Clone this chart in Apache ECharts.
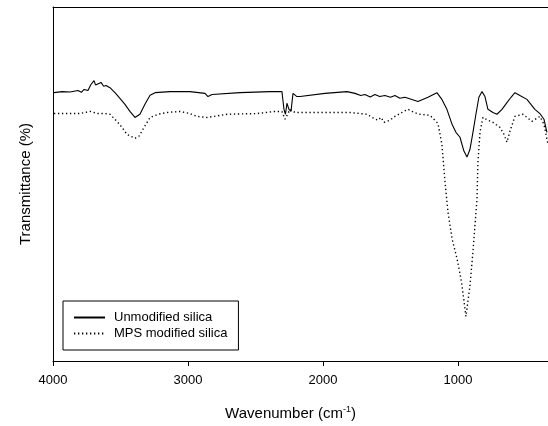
<!DOCTYPE html>
<html lang="en">
<head>
  <meta charset="UTF-8">
  <title>FTIR</title>
  <style>
    html, body { margin: 0; padding: 0; background: #fff; }
  </style>
</head>
<body>
  <div id="chart" style="width:548px;height:426px;"></div>
<script src="https://cdn.jsdelivr.net/npm/echarts@6/dist/echarts.min.js"></script>
<script>
  // wavenumber (cm-1) and transmittance (%)
  var waveSolid = [3993, 3933, 3874, 3815, 3790, 3770, 3741, 3719, 3696, 3685, 3674, 3644, 3625, 3607, 3578, 3541, 3504,
    3467, 3430, 3393, 3356, 3319, 3281, 3244, 3133, 2985, 2874, 2852, 2822, 2615, 2393, 2304, 2289, 2278, 2267,
    2252, 2237, 2222, 2193, 2170, 1985, 1822, 1763, 1720, 1689, 1650, 1615, 1580, 1541, 1500, 1467, 1430, 1393,
    1296, 1222, 1156, 1119, 1082, 1044, 1015, 985, 956, 933, 911, 889, 867, 845, 822, 800, 778, 741, 711, 674,
    637, 607, 578, 541, 489, 430, 393, 363, 341];
  var unmodified = [75.8, 76.1, 76.0, 76.4, 75.9, 76.7, 76.4, 78.1, 79.2, 78.0, 78.4, 78.7, 77.6, 77.8, 77.2, 75.8, 74.2,
    72.5, 70.5, 68.8, 69.7, 72.5, 75.1, 75.8, 76.1, 76.1, 75.6, 74.7, 75.3, 75.8, 76.1, 76.1, 71.1, 69.7, 72.8,
    71.1, 70.5, 75.6, 74.7, 74.7, 75.6, 76.1, 75.6, 75.0, 75.3, 74.6, 75.3, 74.7, 75.0, 74.5, 75.0, 74.2, 74.5,
    73.3, 74.5, 75.8, 73.9, 71.1, 66.9, 64.6, 63.2, 59.3, 57.6, 59.8, 64.6, 69.7, 74.5, 76.1, 74.7, 71.1, 70.2,
    69.7, 71.1, 73.0, 74.5, 75.8, 75.0, 73.9, 71.1, 69.9, 68.3, 64.6];

  var waveDotted = [3993, 3911, 3800, 3726, 3667, 3615, 3578, 3526, 3489, 3452, 3393, 3363, 3333, 3281, 3222, 3156,
    3059, 2985, 2933, 2859, 2711, 2489, 2356, 2304, 2281, 2244, 2207, 2022, 1800, 1674, 1622, 1593, 1570, 1548,
    1504, 1467, 1415, 1370, 1326, 1281, 1207, 1148, 1119, 1096, 1074, 1044, 1007, 985, 970, 941, 911, 889, 870,
    859, 852, 837, 815, 778, 741, 689, 659, 637, 615, 578, 519, 452, 393, 363, 333];
  var modified = [69.9, 69.9, 69.9, 70.5, 69.9, 69.9, 69.7, 67.7, 66.0, 64.0, 62.9, 63.5, 65.5, 68.8, 69.7, 70.2,
    70.5, 69.9, 69.1, 68.8, 69.7, 69.9, 70.5, 70.5, 68.3, 71.1, 70.2, 70.2, 70.2, 69.7, 68.5, 68.0, 68.8, 67.4,
    68.0, 69.1, 70.2, 71.1, 70.2, 69.7, 69.4, 67.1, 61.2, 50.6, 42.1, 34.6, 28.9, 24.7, 21.3, 12.6, 21.3, 30.9, 40.2,
    45.8, 56.2, 64.6, 68.8, 68.0, 67.4, 66.0, 64.0, 61.8, 64.9, 69.1, 69.7, 67.7, 69.1, 66.9, 61.2];

  var tickValues = [4000, 3000, 2000, 1000];

  function pairs(xs, ys) {
    return xs.map(function (x, i) { return [x, ys[i]]; });
  }

  var font = '"Liberation Sans", Arial, sans-serif';
  var myChart = echarts.init(document.getElementById('chart'));
  var option = {
    animation: false,
    textStyle: { fontFamily: font },
    grid: { left: 53, right: 0, top: 7, bottom: 63, containLabel: false },
    legend: {
      orient: 'vertical',
      left: 63,
      top: 301,
      padding: [10, 11, 10, 10],
      itemWidth: 31,
      itemHeight: 14,
      itemGap: 3,
      borderColor: '#000',
      borderWidth: 1,
      itemStyle: { opacity: 0 },
      textStyle: { fontFamily: font, fontSize: 13, color: '#000', padding: [0, 0, 0, 4] },
      data: ['Unmodified silica', 'MPS modified silica']
    },
    xAxis: [{
      type: 'value',
      inverse: true,
      min: 333,
      max: 4000,
      position: 'bottom',
      name: 'Wavenumber (cm{sup|-1})',
      nameLocation: 'middle',
      nameGap: 44,
      nameTextStyle: {
        fontFamily: font, fontSize: 15, color: '#000', padding: [0, 20, 0, 0],
        rich: { sup: { fontSize: 9, verticalAlign: 'top', padding: [0, 0, 8, 0], fontFamily: font, color: '#000' } }
      },
      splitLine: { show: false },
      axisLine: { lineStyle: { color: '#000', width: 1 } },
      axisTick: { show: true, length: 5, customValues: tickValues, lineStyle: { color: '#000' } },
      axisLabel: {
        customValues: tickValues, margin: 13, fontSize: 13, color: '#000', fontFamily: font,
        formatter: function (v) { return String(v); }
      }
    }, {
      type: 'value',
      inverse: true,
      min: 333,
      max: 4000,
      position: 'top',
      splitLine: { show: false },
      axisLine: { lineStyle: { color: '#000', width: 1 } },
      axisTick: { show: false },
      axisLabel: { show: false }
    }],
    yAxis: {
      type: 'value',
      min: 0,
      max: 100,
      name: 'Transmittance (%)',
      nameLocation: 'middle',
      nameGap: 20,
      nameTextStyle: { fontFamily: font, fontSize: 15, color: '#000' },
      splitLine: { show: false },
      axisLine: { show: true, lineStyle: { color: '#000', width: 1 } },
      axisTick: { show: false },
      axisLabel: { show: false }
    },
    series: [{
      name: 'Unmodified silica',
      type: 'line',
      symbol: 'none',
      data: pairs(waveSolid, unmodified),
      lineStyle: { color: '#000', width: 1.1 },
      itemStyle: { color: '#000' }
    }, {
      name: 'MPS modified silica',
      type: 'line',
      symbol: 'none',
      data: pairs(waveDotted, modified),
      lineStyle: { color: '#000', width: 1.4, type: [1.3, 2.7] },
      itemStyle: { color: '#000' }
    }]
  };
  myChart.setOption(option);
</script>
</body>
</html>
